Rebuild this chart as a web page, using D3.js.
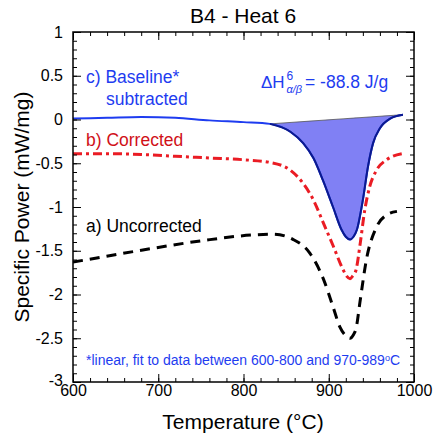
<!DOCTYPE html>
<html><head><meta charset="utf-8">
<script src="https://cdn.jsdelivr.net/npm/d3@7"></script>
<style>
body{margin:0;background:#fff;}
text{font-family:"Liberation Sans",Arial,Helvetica,sans-serif;}
</style></head>
<body><svg id="c" width="435" height="439"></svg>
<script>
// ---- data ----
const xTicks = [600, 700, 800, 900, 1000];
const yTicks = [1, 0.5, 0, -0.5, -1, -1.5, -2, -2.5, -3];
const yTickLabels = ["1", "0.5", "0", "-0.5", "-1", "-1.5", "-2", "-2.5", "-3"];

const blueT = [600, 640, 680, 720, 760, 800, 831, 855, 870, 882, 893, 905, 915, 920, 925, 929, 933, 940, 946, 952, 960, 972, 987];
const blueV = [0.01, 0.02, 0.03, 0.02, -0.01, -0.03, -0.05, -0.14, -0.27, -0.44, -0.69, -1.00, -1.26, -1.34, -1.37, -1.34, -1.26, -0.92, -0.54, -0.27, -0.10, 0.01, 0.055];

const redT = [600, 640, 680, 720, 760, 800, 831, 855, 870, 882, 894, 905, 917, 921, 925, 928, 932, 937, 942, 948, 956, 968, 987];
const redV = [-0.39, -0.39, -0.40, -0.42, -0.44, -0.46, -0.49, -0.58, -0.73, -0.92, -1.19, -1.44, -1.72, -1.79, -1.82, -1.79, -1.72, -1.41, -1.05, -0.77, -0.58, -0.46, -0.39];

const blackT = [600, 635, 695, 755, 810, 835, 858, 878, 894, 905, 913, 920, 925, 929, 932, 937, 944, 956, 968, 980];
const blackV = [-1.63, -1.57, -1.47, -1.38, -1.32, -1.31, -1.37, -1.53, -1.83, -2.14, -2.37, -2.47, -2.50, -2.46, -2.39, -2.06, -1.61, -1.23, -1.09, -1.05];

const baselineT = [831, 987];
const baselineV = [-0.05, 0.055];

// ---- chart ----
const W = 435, H = 439;
const m = {l: 73, r: 21, t: 32, b: 57};
const svg = d3.select("#c");
const x = d3.scaleLinear().domain([600, 1000]).range([m.l, W - m.r]);
const y = d3.scaleLinear().domain([-3, 1]).range([H - m.b, m.t]);

const zip = (T, V) => T.map((t, i) => ({t, v: V[i]}));
const blue = zip(blueT, blueV), red = zip(redT, redV), black = zip(blackT, blackV);
const baseAt = t => baselineV[0] + (t - baselineT[0]) / (baselineT[1] - baselineT[0]) * (baselineV[1] - baselineV[0]);

const line = d3.line().x(d => x(d.t)).y(d => y(d.v)).curve(d3.curveMonotoneX);

svg.append("defs").append("clipPath").attr("id", "clip")
  .append("rect").attr("x", m.l).attr("y", m.t).attr("width", W - m.l - m.r).attr("height", H - m.t - m.b);
const g = svg.append("g").attr("clip-path", "url(#clip)");

// filled peak
const peak = blue.filter(d => d.t >= baselineT[0] && d.t <= baselineT[1]);
const area = d3.area().x(d => x(d.t)).y0(d => y(baseAt(d.t))).y1(d => y(d.v)).curve(d3.curveMonotoneX);
g.append("path").datum(peak).attr("d", area).attr("fill", "#8080f4");
g.append("path").datum(zip(baselineT, baselineV)).attr("d", d3.line().x(d => x(d.t)).y(d => y(d.v)))
  .attr("stroke", "#555").attr("stroke-width", 0.8).attr("fill", "none");

g.append("path").datum(black).attr("d", line).attr("fill", "none")
  .attr("stroke", "#000").attr("stroke-width", 3).attr("stroke-dasharray", "10,7");
g.append("path").datum(red).attr("d", line).attr("fill", "none")
  .attr("stroke", "#ea1c24").attr("stroke-width", 3).attr("stroke-dasharray", "9,4,3,4");
g.append("path").datum(blue).attr("d", line).attr("fill", "none")
  .attr("stroke", "#1e3cf0").attr("stroke-width", 2);
g.append("path").datum(peak).attr("d", line).attr("fill", "none")
  .attr("stroke", "#0c1a8e").attr("stroke-width", 2);

// axes
const xMinor = d3.range(600, 1001, 20);
const yMinor = d3.range(-30, 11, 1).map(d => d / 10);
const fs = 16;
function ax(axisFn, scale, ticks, size, fmt, tr) {
  const a = axisFn(scale).tickValues(ticks).tickSize(size).tickSizeOuter(0);
  a.tickFormat(fmt || (() => ""));
  const sel = svg.append("g").attr("transform", tr).call(a);
  sel.select(".domain").remove();
  sel.selectAll(".tick line").attr("stroke", "#000").attr("stroke-width", 1);
  return sel;
}
const bx = `translate(0,${H - m.b})`, tx = `translate(0,${m.t})`;
const lx = `translate(${m.l},0)`, rx = `translate(${W - m.r},0)`;
ax(d3.axisBottom, x, xMinor, -4, null, bx);
ax(d3.axisTop, x, xMinor, -4, null, tx);
ax(d3.axisLeft, y, yMinor, -4, null, lx);
ax(d3.axisRight, y, yMinor, -4, null, rx);
const xb = ax(d3.axisBottom, x, xTicks, -8, d => String(d), bx);
xb.selectAll("text").attr("font-size", fs).attr("fill", "#000").attr("dy", "0.71em").attr("y", 3);
ax(d3.axisTop, x, xTicks, -8, null, tx);
const yl = ax(d3.axisLeft, y, yTicks, -8, (d, i) => yTickLabels[i], lx);
yl.selectAll("text").attr("font-size", fs).attr("fill", "#000").attr("x", -10);
yl.selectAll("text").filter(d => d === -3).attr("dy", "0.2em");
ax(d3.axisRight, y, yTicks, -8, null, rx);

svg.append("rect").attr("x", m.l).attr("y", m.t).attr("width", W - m.l - m.r).attr("height", H - m.t - m.b)
  .attr("fill", "none").attr("stroke", "#000").attr("stroke-width", 1.5);

// titles
svg.append("text").attr("x", 243).attr("y", 23).attr("text-anchor", "middle").attr("font-size", 21).text("B4 - Heat 6");
svg.append("text").attr("x", 243).attr("y", 429).attr("text-anchor", "middle").attr("font-size", 21).text("Temperature (°C)");
svg.append("text").attr("transform", `translate(29,${(m.t + H - m.b) / 2}) rotate(-90)`)
  .attr("text-anchor", "middle").attr("font-size", 21).text("Specific Power (mW/mg)");

// labels
const blueTxt = "#1e3cf0";
svg.append("text").attr("x", 86).attr("y", 83).attr("font-size", 17.5).attr("fill", blueTxt).text("c) Baseline*");
svg.append("text").attr("x", 106).attr("y", 105).attr("font-size", 17.5).attr("fill", blueTxt).text("subtracted");
svg.append("text").attr("x", 86).attr("y", 146).attr("font-size", 17.5).attr("fill", "#d01018").text("b) Corrected");
svg.append("text").attr("x", 86).attr("y", 232).attr("font-size", 17.5).attr("fill", "#000").text("a) Uncorrected");

const dh = svg.append("g").attr("fill", blueTxt);
dh.append("text").attr("x", 261).attr("y", 88).attr("font-size", 17).text("ΔH");
dh.append("text").attr("x", 286.5).attr("y", 79.5).attr("font-size", 12).text("6");
dh.append("text").attr("x", 286.5).attr("y", 93).attr("font-size", 11).attr("font-style", "italic")
  .attr("font-family", "'DejaVu Serif', serif").text("α/β");
dh.append("text").attr("x", 305).attr("y", 88).attr("font-size", 17.5).text("= -88.8 J/g");

const fn = svg.append("text").attr("x", 86).attr("y", 365).attr("font-size", 14).attr("fill", blueTxt);
fn.append("tspan").text("*linear, fit to data between 600-800 and 970-989");
fn.append("tspan").attr("font-size", 9).attr("dy", -4).text("o");
fn.append("tspan").attr("dy", 4).text("C");
</script></body></html>
